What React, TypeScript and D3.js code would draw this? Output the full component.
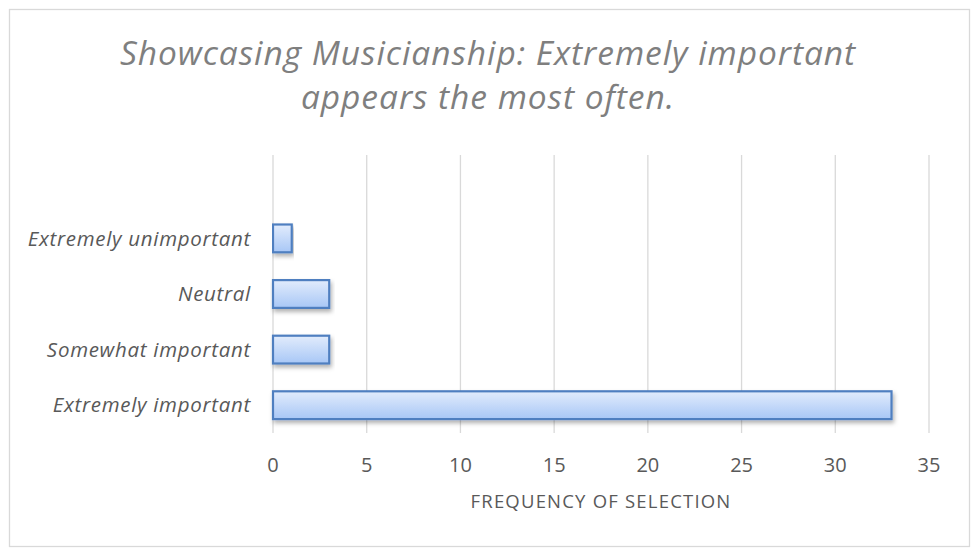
import React, { useEffect, useRef } from "react";
import * as d3 from "d3";

const titleLines = ["Showcasing Musicianship: Extremely important", "appears the most often."];
const categories = ["", "Extremely unimportant", "Neutral", "Somewhat important", "Extremely important"];
const values = [null, 1, 3, 3, 33];
const xTicks = [0, 5, 10, 15, 20, 25, 30, 35];
const xAxisTitle = "FREQUENCY OF SELECTION";

const W = 975;
const H = 550;
const FONT = "'Open Sans', sans-serif";

export default function App() {
  const ref = useRef<SVGSVGElement>(null);

  useEffect(() => {
    const svg = d3.select(ref.current);
    svg.selectAll("*").remove();

    const margin = { left: 273, right: 46, top: 155, bottom: 117 };
    const x = d3.scaleLinear().domain([0, 35]).range([margin.left, W - margin.right]);
    const y = d3
      .scaleBand<string>()
      .domain(categories.map((c, i) => String(i)))
      .range([margin.top, H - margin.bottom])
      .paddingInner(0.5)
      .paddingOuter(0.25);

    const defs = svg.append("defs");
    const grad = defs
      .append("linearGradient")
      .attr("id", "barFill")
      .attr("x1", 0)
      .attr("y1", 0)
      .attr("x2", 0)
      .attr("y2", 1);
    grad.append("stop").attr("offset", "0%").attr("stop-color", "#e2ecfc");
    grad.append("stop").attr("offset", "100%").attr("stop-color", "#a8c7f6");

    const shadow = defs.append("filter").attr("id", "barShadow").attr("x", "-5%").attr("y", "-30%").attr("width", "115%").attr("height", "190%");
    shadow
      .append("feDropShadow")
      .attr("dx", 1.5)
      .attr("dy", 3)
      .attr("stdDeviation", 2)
      .attr("flood-color", "#000")
      .attr("flood-opacity", 0.3);

    // chart frame
    svg
      .append("rect")
      .attr("x", 9.5)
      .attr("y", 9.5)
      .attr("width", 960)
      .attr("height", 537)
      .attr("fill", "#fff")
      .attr("stroke", "#d9d9d9")
      .attr("stroke-width", 1.3);

    // title
    svg
      .append("g")
      .selectAll("text")
      .data(titleLines)
      .join("text")
      .attr("x", 488)
      .attr("y", (d, i) => 65 + i * 44)
      .attr("text-anchor", "middle")
      .attr("font-family", FONT)
      .attr("font-style", "italic")
      .attr("font-size", 33.5)
      .attr("letter-spacing", 0.95)
      .attr("fill", "#7f7f7f")
      .text((d) => d);

    // vertical gridlines
    svg
      .append("g")
      .selectAll("line")
      .data(xTicks)
      .join("line")
      .attr("x1", (d) => x(d))
      .attr("x2", (d) => x(d))
      .attr("y1", margin.top)
      .attr("y2", H - margin.bottom)
      .attr("stroke", "#d9d9d9")
      .attr("stroke-width", 1.3);

    // x tick labels
    svg
      .append("g")
      .selectAll("text")
      .data(xTicks)
      .join("text")
      .attr("x", (d) => x(d))
      .attr("y", 472)
      .attr("text-anchor", "middle")
      .attr("font-family", FONT)
      .attr("font-size", 20)
      .attr("fill", "#595959")
      .text((d) => String(d));

    // x axis title
    svg
      .append("text")
      .attr("x", x(17.5))
      .attr("y", 508)
      .attr("text-anchor", "middle")
      .attr("font-family", FONT)
      .attr("font-size", 18.5)
      .attr("letter-spacing", 1.2)
      .attr("fill", "#595959")
      .text(xAxisTitle);

    // category labels
    svg
      .append("g")
      .selectAll("text")
      .data(categories)
      .join("text")
      .attr("x", 251)
      .attr("y", (d, i) => (y(String(i)) as number) + y.bandwidth() / 2)
      .attr("dy", "0.35em")
      .attr("text-anchor", "end")
      .attr("font-family", FONT)
      .attr("font-style", "italic")
      .attr("font-size", 20.5)
      .attr("letter-spacing", 0.7)
      .attr("fill", "#595959")
      .text((d) => d);

    // bars
    const barData = values
      .map((v, i) => ({ v, i }))
      .filter((d) => d.v !== null) as { v: number; i: number }[];
    svg
      .append("g")
      .selectAll("rect")
      .data(barData)
      .join("rect")
      .attr("x", x(0))
      .attr("y", (d) => y(String(d.i)) as number)
      .attr("width", (d) => x(d.v) - x(0))
      .attr("height", y.bandwidth())
      .attr("fill", "url(#barFill)")
      .attr("stroke", "#4f7fc0")
      .attr("stroke-width", 2.2)
      .attr("filter", "url(#barShadow)");
  }, []);

  return (
    <svg ref={ref} width={W} height={H} style={{ position: "absolute", left: 0, top: 0 }} />
  );
}
